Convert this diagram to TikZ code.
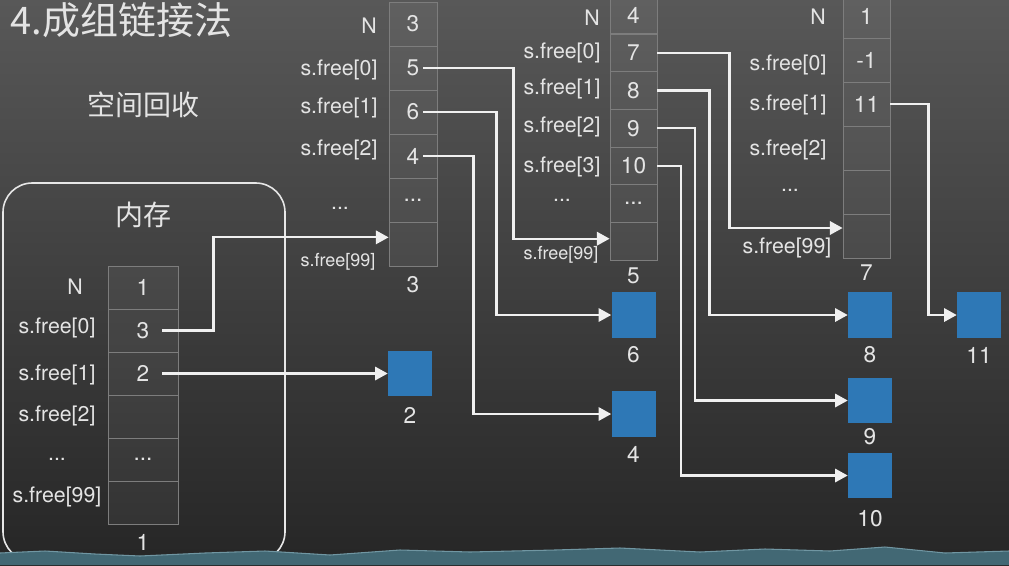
\documentclass[tikz,border=0pt]{standalone}
\usepackage{fontspec}
\setmainfont{TeX Gyre Heros}
\newfontfamily\cjk{Noto Sans CJK SC}
\usetikzlibrary{arrows.meta,positioning}
\definecolor{bgtop}{RGB}{88,88,88}
\definecolor{bgbot}{RGB}{38,38,38}
\definecolor{txt}{RGB}{228,228,228}
\definecolor{cellline}{RGB}{125,125,125}
\definecolor{blkblue}{RGB}{46,120,182}
\definecolor{band}{RGB}{66,104,116}
\definecolor{bandedge}{RGB}{112,150,162}

\begin{document}
\begin{tikzpicture}[
    x=0.75pt, y=-0.75pt,
    font=\fontsize{17}{19}\selectfont,
    txt/.style={text=txt, inner sep=1pt},
    lbl/.style={txt, font=\fontsize{16}{18}\selectfont},
    lblsm/.style={txt, font=\fontsize{13.5}{16}\selectfont},
    cell/.style={
      draw=cellline, line width=0.6pt, fill=white, fill opacity=0.05,
      text opacity=1, text=txt, inner sep=0pt,
      minimum width=35.25pt, minimum height=33pt
    },
    cellM/.style={cell, minimum width=52.5pt, minimum height=32.25pt},
    cellG/.style={cell, minimum width=36pt},
    cellS/.style={cell, minimum height=28.3pt},
    blk/.style={fill=blkblue, minimum width=33pt, minimum height=34pt, inner sep=0pt},
    arr/.style={-{Triangle[length=9.5pt,width=10pt]}, draw=white!94!black, line width=1.7pt},
  ]
    \useasboundingbox (0,0) rectangle (1009,565);
    \shade[top color=bgtop, bottom color=bgbot] (0,0) rectangle (1009,565);

    % titles
    \node[txt, anchor=west, font=\fontsize{28.5}{31}\selectfont] (title) at (9,20) {\cjk 4.成组链接法};
    \node[txt, font=\fontsize{21}{24}\selectfont] (recl) at (143,105) {\cjk 空间回收};

    % memory
    \node[draw=txt!90, line width=1.2pt, rounded corners=22pt,
          minimum width=211.5pt, minimum height=283.5pt] (memory) at (144,372) {};
    \node[txt, font=\fontsize{21}{24}\selectfont] (memhd) at (143,215) {\cjk 内存};

    \node[cellM] (memN)  at (143,287.5) {1};
    \node[cellM] (mem0)  at (143,330.5) {3};
    \node[cellM] (mem1)  at (143,373.5) {2};
    \node[cellM] (mem2)  at (143,416.5) {};
    \node[cellM] (memD)  at (143,459.5) {...};
    \node[cellM] (mem99) at (143,502.5) {};
    \node[lbl] (memNl)  at (75,287)  {N};
    \node[lbl] (mem0l)  at (57,328)  {s.free[0]};
    \node[lbl] (mem1l)  at (57,375)  {s.free[1]};
    \node[lbl] (mem2l)  at (57,416)  {s.free[2]};
    \node[lbl] (memDl)  at (57,459)  {...};
    \node[lbl] (mem99l) at (57,497)  {s.free[99]};
    \node[txt] (memno)  at (143,542) {1};

    % group 3
    \node[cellG] (g3N)  at (413,24)  {3};
    \node[cellG] (g30)  at (413,68)  {5};
    \node[cellG] (g31)  at (413,112) {6};
    \node[cellG] (g32)  at (413,156) {4};
    \node[cellG] (g3D)  at (413,200) {...};
    \node[cellG] (g399) at (413,244) {};
    \node[lbl]   (g3Nl)  at (369,26)  {N};
    \node[lbl]   (g30l)  at (339,70)  {s.free[0]};
    \node[lbl]   (g31l)  at (339,108) {s.free[1]};
    \node[lbl]   (g32l)  at (339,150) {s.free[2]};
    \node[lbl]   (g3Dl)  at (340,208) {...};
    \node[lblsm] (g399l) at (338,262) {s.free[99]};
    \node[txt]   (g3no)  at (413,285) {3};

    % group 5
    \node[cellS] (g5N)  at (633.5,15)    {4};
    \node[cellS] (g50)  at (633.5,52.85) {7};
    \node[cellS] (g51)  at (633.5,90.55) {8};
    \node[cellS] (g52)  at (633.5,128.25) {9};
    \node[cellS] (g53)  at (633.5,165.95) {10};
    \node[cellS] (g5D)  at (633.5,203.65) {...};
    \node[cellS] (g599) at (633.5,241.35) {};
    \node[lbl]   (g5Nl)  at (592,18)  {N};
    \node[lbl]   (g50l)  at (562,53)  {s.free[0]};
    \node[lbl]   (g51l)  at (562,89)  {s.free[1]};
    \node[lbl]   (g52l)  at (562,127) {s.free[2]};
    \node[lbl]   (g53l)  at (562,167) {s.free[3]};
    \node[lbl]   (g5Dl)  at (562,200) {...};
    \node[lblsm] (g599l) at (561,255) {s.free[99]};
    \node[txt]   (g5no)  at (633.5,276) {5};

    % group 7
    \node[cell] (g7N)  at (866.5,16)  {1};
    \node[cell] (g70)  at (866.5,60)  {-1};
    \node[cell] (g71)  at (866.5,104) {11};
    \node[cell] (g72)  at (866.5,148) {};
    \node[cell] (g7D)  at (866.5,192) {};
    \node[cell] (g799) at (866.5,236) {};
    \node[lbl] (g7Nl)  at (818,17)  {N};
    \node[lbl] (g70l)  at (788,65)  {s.free[0]};
    \node[lbl] (g71l)  at (788,105) {s.free[1]};
    \node[lbl] (g72l)  at (788,150) {s.free[2]};
    \node[lbl] (g7Dl)  at (790,190) {...};
    \node[lbl] (g799l) at (787,248) {s.free[99]};
    \node[txt] (g7no)  at (866.5,273) {7};

    % free blocks
    \node[blk] (blk2)  at (410,373.5) {};
    \node[blk] (blk6)  at (633.5,315) {};
    \node[blk] (blk4)  at (633.5,414) {};
    \node[blk] (blk8)  at (870,315)   {};
    \node[blk] (blk9)  at (870,400.5) {};
    \node[blk] (blk10) at (870,475.5) {};
    \node[blk] (blk11) at (979,315)   {};
    \node[txt] (n2)  at (410,415)   {2};
    \node[txt] (n6)  at (633.5,355) {6};
    \node[txt] (n4)  at (633.5,454) {4};
    \node[txt] (n8)  at (870,355)   {8};
    \node[txt] (n9)  at (870,437)   {9};
    \node[txt] (n10) at (870,519)   {10};
    \node[txt] (n11) at (979,355)   {11};

    % links
    \draw[arr] ([xshift=-12pt]mem0.east) -- ++(51,0) |- ([yshift=5pt]g399.west);
    \draw[arr] ([xshift=-12pt]mem1.east) -- (blk2.west);
    \draw[arr] ([xshift=-10.5pt]g30.east) -- ++(90,0) |- ([yshift=2pt]g599.west);
    \draw[arr] ([xshift=-10.5pt]g31.east) -- ++(73,0) |- (blk6.west);
    \draw[arr] ([xshift=-10.5pt]g32.east) -- ++(50,0) |- (blk4.west);
    \draw[arr] (g50.east) -- ++(72,0) |- ([yshift=6pt]g799.west);
    \draw[arr] (g51.east) -- ++(52,0) |- (blk8.west);
    \draw[arr] (g52.east) -- ++(37.5,0) |- (blk9.west);
    \draw[arr] (g53.east) -- ++(23.5,0) |- (blk10.west);
    \draw[arr] (g71.east) -- ++(38,0) |- (blk11.west);

    % bottom strip
    \fill[band] (0,565) -- (0,553) -- (45,551) -- (95,554) -- (140,556) -- (205,553)
      -- (265,551) -- (330,555) -- (400,550) -- (470,552) -- (555,550) -- (620,548)
      -- (700,552) -- (765,549) -- (830,551) -- (885,547) -- (945,553) -- (1009,551)
      -- (1009,565) -- cycle;
    \draw[bandedge, line width=0.8pt] (0,553) -- (45,551) -- (95,554) -- (140,556) -- (205,553)
      -- (265,551) -- (330,555) -- (400,550) -- (470,552) -- (555,550) -- (620,548)
      -- (700,552) -- (765,549) -- (830,551) -- (885,547) -- (945,553) -- (1009,551);
  \end{tikzpicture}
\end{document}
